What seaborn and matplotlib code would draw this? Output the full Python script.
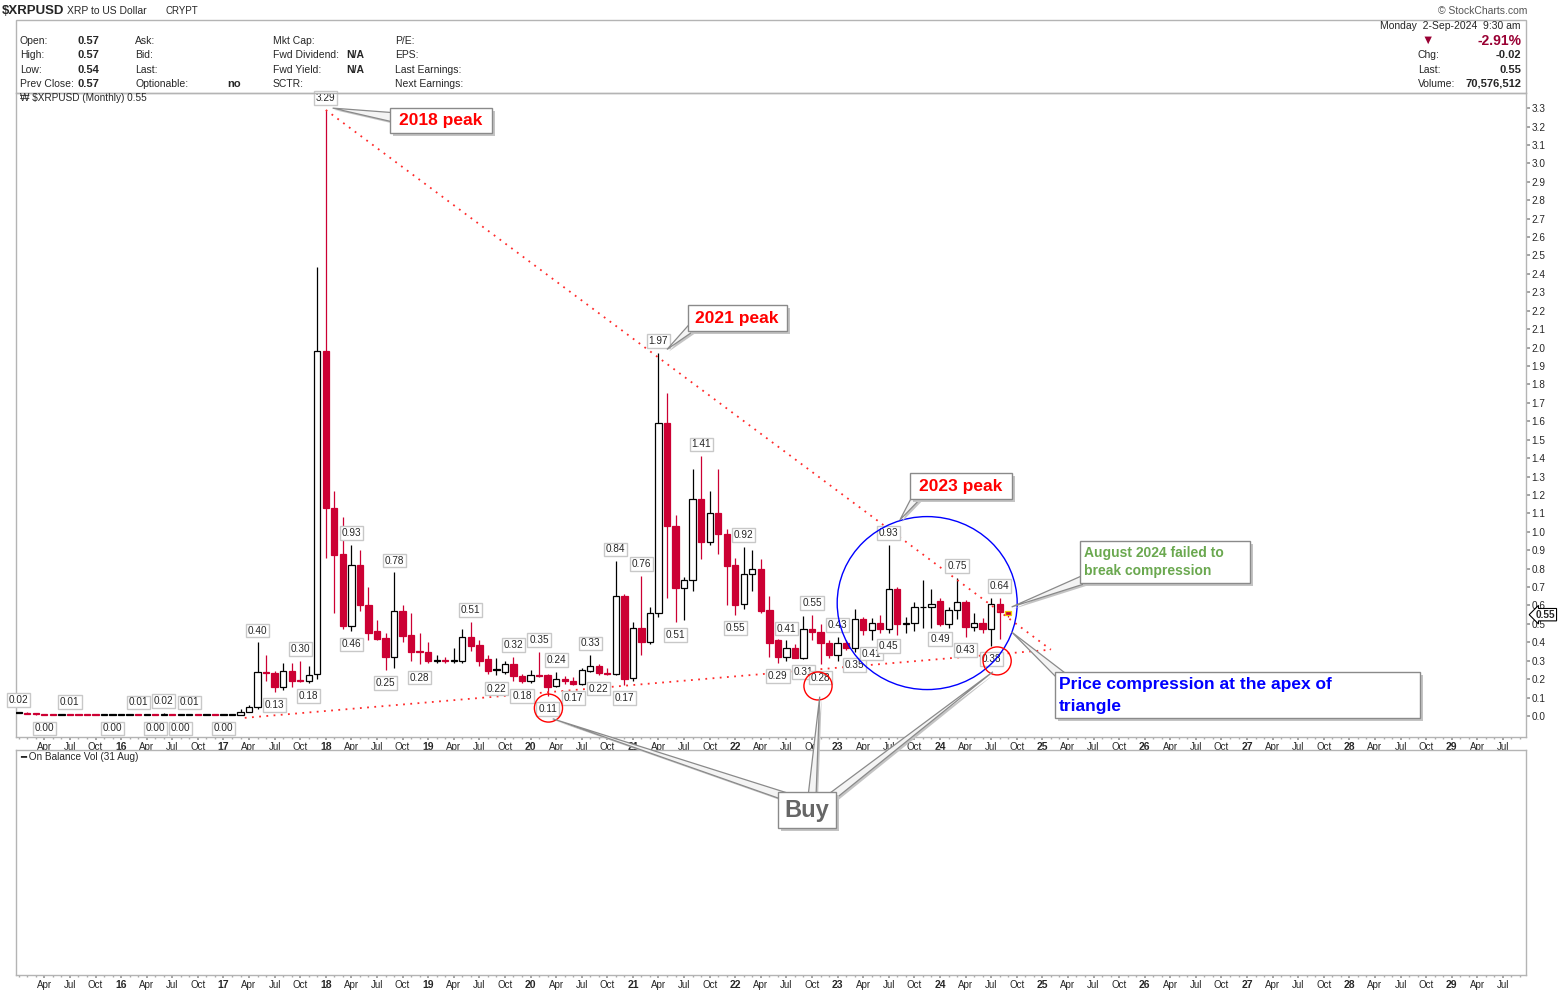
import numpy as np
import matplotlib
matplotlib.use("Agg")
import matplotlib.pyplot as plt
import seaborn as sns
from matplotlib.patches import Ellipse, Rectangle, Polygon
from matplotlib.transforms import IdentityTransform

# ---------------- data (monthly candles, Jan 2015 .. Sep 2024) ----------------
start_year = 2015
opens = [0.022, 0.018, 0.012, 0.010, 0.008, 0.007, 0.009, 0.008, 0.007, 0.006, 0.005, 0.006,
         0.006, 0.006, 0.008, 0.007, 0.007, 0.006, 0.007, 0.006, 0.006, 0.009, 0.007, 0.007,
         0.006, 0.006, 0.007, 0.020, 0.05, 0.24, 0.235, 0.155, 0.245, 0.195, 0.19, 0.23,
         1.98, 1.13, 0.88, 0.49, 0.82, 0.60, 0.46, 0.425, 0.32, 0.57, 0.44, 0.355,
         0.35, 0.30, 0.303, 0.30, 0.30, 0.43, 0.385, 0.31, 0.252, 0.24, 0.28, 0.215,
         0.19, 0.225, 0.22, 0.165, 0.20, 0.19, 0.172, 0.245, 0.27, 0.235, 0.228, 0.65,
         0.205, 0.48, 0.40, 0.56, 1.59, 1.03, 0.695, 0.74, 1.18, 0.945, 1.10, 0.99,
         0.82, 0.61, 0.77, 0.80, 0.575, 0.41, 0.32, 0.37, 0.315, 0.47, 0.455, 0.395,
         0.33, 0.395, 0.37, 0.525, 0.465, 0.505, 0.47, 0.69, 0.50, 0.505, 0.59, 0.593,
         0.625, 0.50, 0.575, 0.62, 0.485, 0.505, 0.47, 0.61, 0.57]
highs = [0.024, 0.020, 0.014, 0.012, 0.010, 0.010, 0.012, 0.009, 0.008, 0.007, 0.006, 0.007,
         0.008, 0.009, 0.010, 0.008, 0.008, 0.016, 0.008, 0.007, 0.010, 0.009, 0.008, 0.007,
         0.007, 0.008, 0.040, 0.060, 0.40, 0.33, 0.245, 0.29, 0.29, 0.30, 0.27, 2.44,
         3.29, 1.22, 1.08, 0.93, 0.90, 0.70, 0.52, 0.45, 0.78, 0.60, 0.56, 0.45,
         0.40, 0.33, 0.32, 0.37, 0.47, 0.51, 0.41, 0.33, 0.315, 0.30, 0.32, 0.23,
         0.25, 0.35, 0.23, 0.24, 0.215, 0.21, 0.26, 0.33, 0.28, 0.26, 0.84, 0.66,
         0.51, 0.76, 0.59, 1.97, 1.755, 1.09, 0.755, 1.34, 1.41, 1.22, 1.34, 1.015,
         0.86, 0.92, 0.90, 0.85, 0.65, 0.42, 0.41, 0.39, 0.545, 0.55, 0.50, 0.41,
         0.43, 0.41, 0.58, 0.54, 0.53, 0.55, 0.93, 0.70, 0.54, 0.62, 0.74, 0.69,
         0.64, 0.59, 0.75, 0.63, 0.56, 0.53, 0.64, 0.64, 0.57]
lows = [0.015, 0.010, 0.008, 0.004, 0.006, 0.006, 0.007, 0.006, 0.006, 0.005, 0.005, 0.004,
        0.005, 0.006, 0.006, 0.006, 0.004, 0.006, 0.006, 0.004, 0.006, 0.007, 0.007, 0.006,
        0.004, 0.006, 0.006, 0.020, 0.04, 0.19, 0.13, 0.14, 0.155, 0.185, 0.18, 0.20,
        0.86, 0.56, 0.47, 0.46, 0.57, 0.41, 0.41, 0.25, 0.26, 0.40, 0.30, 0.28,
        0.29, 0.29, 0.29, 0.29, 0.29, 0.355, 0.27, 0.23, 0.22, 0.23, 0.19, 0.18,
        0.18, 0.21, 0.11, 0.16, 0.175, 0.17, 0.17, 0.24, 0.22, 0.225, 0.22, 0.17,
        0.19, 0.33, 0.39, 0.54, 0.64, 0.51, 0.52, 0.68, 0.85, 0.93, 0.88, 0.60,
        0.55, 0.58, 0.68, 0.56, 0.32, 0.29, 0.30, 0.32, 0.31, 0.41, 0.28, 0.315,
        0.30, 0.36, 0.35, 0.44, 0.41, 0.45, 0.45, 0.44, 0.45, 0.46, 0.48, 0.48,
        0.49, 0.48, 0.525, 0.43, 0.46, 0.45, 0.38, 0.42, 0.54]
closes = [0.018, 0.012, 0.010, 0.008, 0.007, 0.009, 0.008, 0.007, 0.006, 0.005, 0.006, 0.006,
          0.006, 0.008, 0.007, 0.007, 0.006, 0.007, 0.006, 0.006, 0.009, 0.007, 0.007, 0.006,
          0.006, 0.007, 0.022, 0.050, 0.24, 0.235, 0.155, 0.245, 0.19, 0.188, 0.225, 1.98,
          1.13, 0.875, 0.49, 0.82, 0.60, 0.45, 0.42, 0.32, 0.57, 0.435, 0.35, 0.348,
          0.30, 0.303, 0.301, 0.302, 0.43, 0.38, 0.30, 0.245, 0.25, 0.28, 0.215, 0.19,
          0.22, 0.215, 0.16, 0.20, 0.19, 0.172, 0.25, 0.27, 0.235, 0.228, 0.65, 0.20,
          0.48, 0.40, 0.56, 1.59, 1.03, 0.695, 0.74, 1.18, 0.945, 1.10, 0.99, 0.815,
          0.60, 0.77, 0.80, 0.57, 0.395, 0.32, 0.37, 0.315, 0.47, 0.455, 0.395, 0.33,
          0.395, 0.37, 0.525, 0.465, 0.505, 0.47, 0.69, 0.50, 0.503, 0.59, 0.593, 0.61,
          0.50, 0.575, 0.62, 0.485, 0.505, 0.47, 0.61, 0.565, 0.55]

# labelled highs / lows (month index)
high_label_idx = [0, 6, 14, 17, 20, 28, 33, 36, 39, 44, 53, 58, 61, 63, 67, 70, 73, 75, 80, 85,
                  90, 93, 96, 102, 110, 115]
low_label_idx = [3, 11, 16, 19, 24, 30, 34, 39, 43, 47, 56, 59, 62, 65, 68, 71, 77, 84, 89, 92,
                 94, 98, 100, 102, 108, 111, 114]

# triangle trend lines (month index, price)
upper_line_m = [36, 121]
upper_line_v = [3.29, 0.36]
lower_line_m = [26.5, 121]
lower_line_v = [-0.01, 0.36]

quarter_names = ["Apr", "Jul", "Oct"]
price_ticks = [round(0.1 * k, 1) for k in range(34)]
last_price = 0.55

# ---------------- figure ----------------
sns.set_theme(style="white")
plt.rcParams["font.family"] = ["Liberation Sans", "DejaVu Sans"]

W, H = 1565, 992
fig = plt.figure(figsize=(W / 100, H / 100), dpi=100)
fig.patch.set_facecolor("white")


def fx(p):
    return p / W


def fy(p):
    return 1 - p / H


ax = fig.add_axes([fx(16), fy(737), fx(1526) - fx(16), fy(93) - fy(737)])
ax2 = fig.add_axes([fx(16), fy(975), fx(1526) - fx(16), fy(750) - fy(975)])

RED = "#cc0033"
o = np.array(opens); h = np.array(highs); l = np.array(lows); c = np.array(closes)
m = np.arange(len(c))
prev = np.r_[c[0], c[:-1]]
cols = np.where(c < prev, RED, "black")
fills = np.where(c > o, "white", cols)
edges = cols.copy().astype(object)
edges[-1] = "#f0d000"

ax.vlines(m, l, h, colors=cols, lw=0.9, zorder=2)
body_bottom = np.minimum(o, c)
body_h = np.maximum(np.abs(c - o), 0.004)
ax.bar(m, body_h, bottom=body_bottom, width=0.74, color=fills, edgecolor=list(edges),
       linewidth=0.9, zorder=3)

# trend lines with seaborn
sns.lineplot(x=upper_line_m, y=upper_line_v, ax=ax, color="#ff2a2a", lw=1.3,
             linestyle=(0, (1, 3)), zorder=4)
sns.lineplot(x=lower_line_m, y=lower_line_v, ax=ax, color="#ff2a2a", lw=1.3,
             linestyle=(0, (1, 3)), zorder=4)

ax.set_xlim(-0.32, 176.7)
ax.set_ylim(-0.114, 3.382)

# value labels
lab_bbox = dict(boxstyle="square,pad=0.18", fc="white", ec="#c8c8c8", lw=1)
for i in high_label_idx:
    ax.annotate(f"{h[i]:.2f}", xy=(i, h[i]), xytext=(0, 8.5), textcoords="offset points",
                ha="center", va="center", fontsize=7.2, bbox=lab_bbox, zorder=6)
for i in low_label_idx:
    ax.annotate(f"{l[i]:.2f}", xy=(i, l[i]), xytext=(0, -9.5), textcoords="offset points",
                ha="center", va="center", fontsize=7.2, bbox=lab_bbox, zorder=6)

# circles
ax.add_patch(Ellipse((106.5, 0.613), 21.1, 0.939, fill=False, ec="#0000ff", lw=1.0, zorder=7))
for (cm, cv) in [(62.1, 0.043), (93.7, 0.163), (114.7, 0.299)]:
    ax.add_patch(Ellipse((cm, cv), 3.3, 0.152, fill=False, ec="#ff0000", lw=1.0, zorder=7))

# axes styling
tick_m = [k for k in range(3, 177) if k % 3 == 0]
tick_lab = [f"{(start_year + k // 12) % 100:02d}" if k % 12 == 0 else quarter_names[(k % 12) // 3 - 1]
            for k in tick_m]
for a in (ax, ax2):
    a.set_xlim(-0.32, 176.7)
    a.set_xticks(tick_m)
    a.set_xticklabels(tick_lab)
    a.set_xticks(range(0, 177), minor=True)
    a.tick_params(axis="x", which="major", length=2, color="#999999", labelsize=7, pad=1.5,
                  bottom=True, direction="out")
    a.tick_params(axis="x", which="minor", length=1.5, color="#aaaaaa", bottom=True, direction="out")
    for t in a.get_xticklabels():
        t.set_fontfamily(["Liberation Sans Narrow", "Liberation Sans", "DejaVu Sans"])
        if t.get_text().isdigit():
            t.set_fontweight("bold")
            t.set_fontsize(7.5)
    for s in a.spines.values():
        s.set_color("#b4b4b4")
        s.set_linewidth(1)
    a.grid(False)
    a.set_facecolor("white")

ax.yaxis.tick_right()
ax.set_yticks(price_ticks)
ax.set_yticklabels([f"{v:.1f}" for v in price_ticks])
ax.tick_params(axis="y", which="major", length=3, color="#999999", labelsize=7.2, pad=1,
               right=True, direction="out")
ax2.set_yticks([])
ax2.set_ylim(0, 1)

ax.annotate(f"{last_price:.2f}", xy=(1, last_price), xycoords=("axes fraction", "data"),
            xytext=(7, 0), textcoords="offset points", ha="left", va="center",
            fontsize=7.2, fontweight="bold",
            bbox=dict(boxstyle="larrow,pad=0.12", fc="white", ec="black", lw=0.8),
            annotation_clip=False, zorder=10)

# ---------------- callouts ----------------
fig.canvas.draw()
ID = IdentityTransform()


def dpx(mm, vv):
    return ax.transData.transform((mm, vv))


def wedge(base_px, tip_disp, width=9):
    b = np.array([base_px[0], H - base_px[1]], dtype=float)
    t = np.array(tip_disp, dtype=float)
    d = (t - b) / np.hypot(*(t - b))
    n = np.array([-d[1], d[0]])
    pts = [b + n * width / 2, t, b - n * width / 2]
    sh = [p + np.array([2, -2]) for p in pts]
    fig.add_artist(Polygon(sh, closed=True, transform=ID, fc="#c4c4c4", ec="none", zorder=20))
    fig.add_artist(Polygon(pts, closed=True, transform=ID, fc="#f4f4f4", ec="#8a8a8a",
                           lw=0.9, zorder=21))


def box(x0, y0, x1, y1):
    fig.add_artist(Rectangle((x0 + 3, H - y1 - 3), x1 - x0, y1 - y0, transform=ID,
                             fc="#c4c4c4", ec="none", zorder=22))
    fig.add_artist(Rectangle((x0, H - y1), x1 - x0, y1 - y0, transform=ID,
                             fc="white", ec="#8a8a8a", lw=1, zorder=23))


def ftext(x, y, s, **kw):
    fig.text(fx(x), fy(y), s, zorder=24, **kw)


# 2018 peak
wedge((398, 118), dpx(36.8, 3.30), 10)
box(390, 108, 492, 133)
ftext(441, 121, "2018 peak", ha="center", va="center", color="#ff0000", fontsize=12.5, fontweight="bold")
# 2021 peak
wedge((698, 322), dpx(76.0, 1.99), 10)
box(688, 305, 787, 331)
ftext(737, 318, "2021 peak", ha="center", va="center", color="#ff0000", fontsize=12.5, fontweight="bold")
# 2023 peak
wedge((920, 492), dpx(103.3, 1.064), 10)
box(910, 473, 1012, 499)
ftext(961, 486, "2023 peak", ha="center", va="center", color="#ff0000", fontsize=12.5, fontweight="bold")
# August 2024
wedge((1088, 578), dpx(116.4, 0.592), 9)
box(1080, 541, 1250, 583)
ftext(1084, 553, "August 2024 failed to", ha="left", va="center", color="#6aa84f", fontsize=10, fontweight="bold")
ftext(1084, 571, "break compression", ha="left", va="center", color="#6aa84f", fontsize=10, fontweight="bold")
# Price compression
wedge((1066, 680), dpx(116.4, 0.456), 10)
box(1055, 672, 1420, 718)
ftext(1059, 685, "Price compression at the apex of", ha="left", va="center", color="#0000ff",
      fontsize=12.5, fontweight="bold")
ftext(1059, 706, "triangle", ha="left", va="center", color="#0000ff", fontsize=12.5, fontweight="bold")
# Buy
wedge((790, 798), dpx(62.6, -0.015), 8)
wedge((812, 797), dpx(93.9, 0.105), 8)
wedge((830, 798), dpx(114.2, 0.24), 8)
box(778, 792, 836, 828)
ftext(807, 811, "Buy", ha="center", va="center", color="#666666", fontsize=17, fontweight="bold")

# ---------------- header ----------------
fig.add_artist(Rectangle((16, H - 93), 1510, 73, transform=ID, fill=False, ec="#b4b4b4", lw=1))
ftext(2, 11, "$XRPUSD", ha="left", va="center", fontsize=9.5, fontweight="bold")
ftext(67, 11, "XRP to US Dollar", ha="left", va="center", fontsize=7.5)
ftext(166, 11, "CRYPT", ha="left", va="center", fontsize=7)
ftext(1527, 11, "© StockCharts.com", ha="right", va="center", fontsize=7.5, color="#555555")

rows_y = [41, 55, 70, 84]
col1 = ["Open:", "High:", "Low:", "Prev Close:"]
col1v = ["0.57", "0.57", "0.54", "0.57"]
col2 = ["Ask:", "Bid:", "Last:", "Optionable:"]
col3 = ["Mkt Cap:", "Fwd Dividend:", "Fwd Yield:", "SCTR:"]
col3v = ["", "N/A", "N/A", ""]
col4 = ["P/E:", "EPS:", "Last Earnings:", "Next Earnings:"]
for yy, a1, v1, a2, a3, v3, a4 in zip(rows_y, col1, col1v, col2, col3, col3v, col4):
    ftext(20, yy, a1, ha="left", va="center", fontsize=7.5)
    ftext(77, yy, v1, ha="left", va="center", fontsize=8, fontweight="bold")
    ftext(135, yy, a2, ha="left", va="center", fontsize=7.5)
    ftext(273, yy, a3, ha="left", va="center", fontsize=7.5)
    if v3:
        ftext(346, yy, v3, ha="left", va="center", fontsize=7.5, fontweight="bold")
    ftext(395, yy, a4, ha="left", va="center", fontsize=7.5)
ftext(227, 84, "no", ha="left", va="center", fontsize=8, fontweight="bold")

ftext(1521, 26, "Monday  2-Sep-2024  9:30 am", ha="right", va="center", fontsize=7.5)
ftext(1428, 41, "▼", ha="center", va="center", fontsize=9, color="#990033")
ftext(1521, 41, "-2.91%", ha="right", va="center", fontsize=10, fontweight="bold", color="#990033")
ftext(1418, 55, "Chg:", ha="left", va="center", fontsize=7.5)
ftext(1521, 55, "-0.02", ha="right", va="center", fontsize=8, fontweight="bold")
ftext(1418, 70, "Last:", ha="left", va="center", fontsize=7.5)
ftext(1521, 70, "0.55", ha="right", va="center", fontsize=8, fontweight="bold")
ftext(1418, 84, "Volume:", ha="left", va="center", fontsize=7.5)
ftext(1521, 84, "70,576,512", ha="right", va="center", fontsize=8, fontweight="bold")

ftext(20, 98, "₩ $XRPUSD (Monthly) 0.55", ha="left", va="center", fontsize=7.2)
ftext(20, 757, "━ On Balance Vol (31 Aug)", ha="left", va="center", fontsize=7.2)

fig.savefig("out.png", dpi=100, facecolor="white")
